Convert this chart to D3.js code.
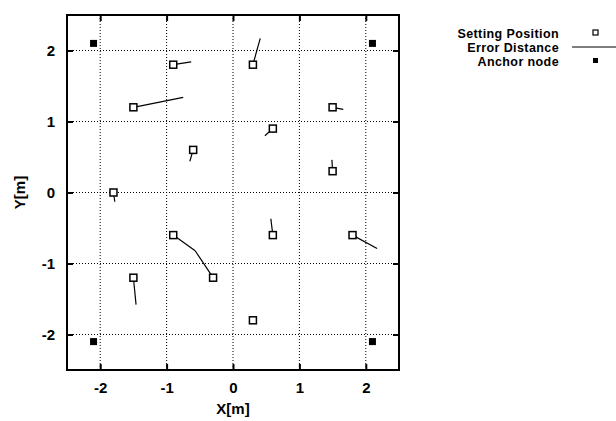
<!DOCTYPE html>
<html lang="en">
<head>
    <meta charset="utf-8">
    <title>Setting position vs estimated position</title>
    <script type="text/javascript" src="https://d3js.org/d3.v7.min.js"></script>
    <style type="text/css">
        body { margin: 0; background: #fff; }
        text { font-family: "Liberation Sans", Arial, sans-serif; fill: #000; }
    </style>
</head>
<body>
<script type="text/javascript">
    var w = 616;
    var h = 421;

    // setting positions of the nodes [m]
    var setX = [-0.9, -1.5, 0.3, 1.5, 0.6, -0.6, 1.5, -1.8, -0.9, -0.3, -1.5, 0.6, 1.8, 0.3];
    var setY = [1.8, 1.2, 1.8, 1.2, 0.9, 0.6, 0.3, 0.0, -0.6, -1.2, -1.2, -0.6, -0.6, -1.8];
    // estimated positions (the other end of the error line)
    var estX = [-0.63, -0.75, 0.41, 1.66, 0.48, -0.65, 1.49, -1.78, -0.57, -0.57, -1.46, 0.57, 2.17, 0.3];
    var estY = [1.84, 1.34, 2.17, 1.17, 0.80, 0.44, 0.46, -0.13, -0.82, -0.82, -1.58, -0.37, -0.79, -1.8];
    // anchor nodes
    var anchorX = [-2.1, 2.1, -2.1, 2.1];
    var anchorY = [2.1, 2.1, -2.1, -2.1];

    var ticks = [-2, -1, 0, 1, 2];
    var legendLabels = ["Setting Position", "Error Distance", "Anchor node"];

    var x0 = 67, x1 = 399, y0 = 15, y1 = 370;

    var x = d3.scaleLinear().domain([-2.5, 2.5]).range([x0, x1]);
    var y = d3.scaleLinear().domain([-2.5, 2.5]).range([y1, y0]);

    var svg = d3.select("body").append("svg")
            .attr("width", w)
            .attr("height", h);

    // grid
    svg.selectAll("line.gx")
            .data(ticks)
            .enter()
            .append("line")
            .attr("x1", function (d) { return x(d); })
            .attr("x2", function (d) { return x(d); })
            .attr("y1", y0)
            .attr("y2", y1)
            .attr("stroke", "#000")
            .attr("stroke-width", 1)
            .attr("stroke-dasharray", "1,2");

    svg.selectAll("line.gy")
            .data(ticks)
            .enter()
            .append("line")
            .attr("y1", function (d) { return y(d); })
            .attr("y2", function (d) { return y(d); })
            .attr("x1", x0)
            .attr("x2", x1)
            .attr("stroke", "#000")
            .attr("stroke-width", 1)
            .attr("stroke-dasharray", "1,2");

    // axes, ticks pointing inward on all four sides
    var tickLen = 6;
    var fmt = function (d) { return d < 0 ? "-" + Math.abs(d) : d; };
    var noDomain = function (g) { g.select(".domain").remove(); };

    var xAxis = svg.append("g")
            .attr("transform", "translate(0," + y1 + ")")
            .call(d3.axisBottom(x).tickValues(ticks).tickSizeInner(-tickLen).tickSizeOuter(0).tickPadding(12).tickFormat(fmt))
            .call(noDomain);
    var yAxis = svg.append("g")
            .attr("transform", "translate(" + x0 + ",0)")
            .call(d3.axisLeft(y).tickValues(ticks).tickSizeInner(-tickLen).tickSizeOuter(0).tickPadding(12).tickFormat(fmt))
            .call(noDomain);
    svg.append("g")
            .attr("transform", "translate(0," + y0 + ")")
            .call(d3.axisTop(x).tickValues(ticks).tickSizeInner(-tickLen).tickSizeOuter(0).tickFormat(""))
            .call(noDomain);
    svg.append("g")
            .attr("transform", "translate(" + x1 + ",0)")
            .call(d3.axisRight(y).tickValues(ticks).tickSizeInner(-tickLen).tickSizeOuter(0).tickFormat(""))
            .call(noDomain);

    svg.selectAll(".tick line").attr("stroke-width", 2);
    [xAxis, yAxis].forEach(function (g) {
        g.selectAll(".tick text")
                .attr("font-family", "'Liberation Sans', Arial, sans-serif")
                .attr("font-size", "15px")
                .attr("font-weight", "bold");
    });

    svg.append("rect")
            .attr("x", x0)
            .attr("y", y0)
            .attr("width", x1 - x0)
            .attr("height", y1 - y0)
            .attr("fill", "none")
            .attr("stroke", "#000")
            .attr("stroke-width", 2);

    // error lines
    svg.selectAll("line.err")
            .data(setX)
            .enter()
            .append("line")
            .attr("x1", function (d) { return x(d); })
            .attr("y1", function (d, i) { return y(setY[i]); })
            .attr("x2", function (d, i) { return x(estX[i]); })
            .attr("y2", function (d, i) { return y(estY[i]); })
            .attr("stroke", "#000")
            .attr("stroke-width", 1.2);

    // setting positions
    var s = 7;
    svg.selectAll("rect.set")
            .data(setX)
            .enter()
            .append("rect")
            .attr("x", function (d) { return x(d) - s / 2; })
            .attr("y", function (d, i) { return y(setY[i]) - s / 2; })
            .attr("width", s)
            .attr("height", s)
            .attr("fill", "#fff")
            .attr("stroke", "#000")
            .attr("stroke-width", 1.5);

    // anchor nodes
    svg.selectAll("rect.anchor")
            .data(anchorX)
            .enter()
            .append("rect")
            .attr("x", function (d) { return x(d) - 3.5; })
            .attr("y", function (d, i) { return y(anchorY[i]) - 3.5; })
            .attr("width", 7)
            .attr("height", 7)
            .attr("fill", "#000");

    // axis labels
    svg.append("text")
            .attr("x", (x0 + x1) / 2)
            .attr("y", 414)
            .attr("text-anchor", "middle")
            .attr("font-size", "15px")
            .attr("font-weight", "bold")
            .text("X[m]");
    svg.append("text")
            .attr("transform", "translate(25," + (y0 + y1) / 2 + ") rotate(-90)")
            .attr("text-anchor", "middle")
            .attr("font-size", "15px")
            .attr("font-weight", "bold")
            .text("Y[m]");

    // legend
    var leg = svg.append("g");
    leg.selectAll("text")
            .data(legendLabels)
            .enter()
            .append("text")
            .attr("x", 559)
            .attr("y", function (d, i) { return 38 + i * 14; })
            .attr("text-anchor", "end")
            .attr("font-size", "12.5px")
            .attr("font-weight", "bold")
            .attr("letter-spacing", "0.4px")
            .text(function (d) { return d; });
    leg.append("rect")
            .attr("x", 593).attr("y", 30).attr("width", 5).attr("height", 5)
            .attr("fill", "#fff").attr("stroke", "#000").attr("stroke-width", 1.2);
    leg.append("line")
            .attr("x1", 572).attr("x2", 616).attr("y1", 47).attr("y2", 47)
            .attr("stroke", "#000").attr("stroke-width", 1);
    leg.append("rect")
            .attr("x", 593).attr("y", 58).attr("width", 5).attr("height", 5)
            .attr("fill", "#000");
</script>
</body>
</html>
